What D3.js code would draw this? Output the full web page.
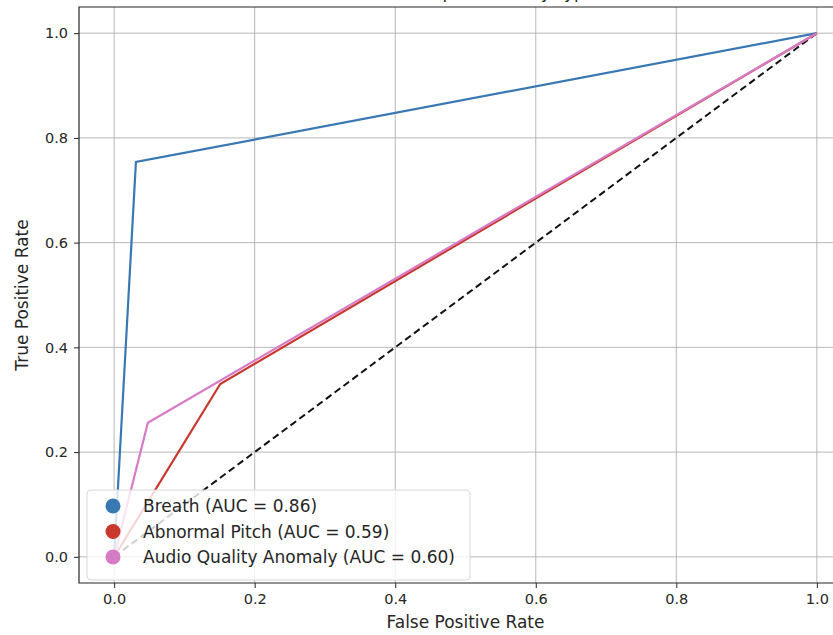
<!DOCTYPE html>
<html>
<head>
<meta charset="utf-8">
<script src="https://cdn.jsdelivr.net/npm/d3@7"></script>
<style>
  body { margin: 0; background: #fff; }
  text { font-family: "DejaVu Sans", sans-serif; fill: #262626; }
</style>
</head>
<body>
<script>
// ROC points per class
const seriesNames = ["Breath", "Abnormal Pitch", "Audio Quality Anomaly"]
const seriesAuc = ["0.86", "0.59", "0.60"]
const seriesColors = ["#3a78b4", "#c9382c", "#d67bc6"]
const breathFpr = [0, 0.031, 1]
const breathTpr = [0, 0.754, 1]
const pitchFpr = [0, 0.151, 1]
const pitchTpr = [0, 0.33, 1]
const audioFpr = [0, 0.048, 1]
const audioTpr = [0, 0.256, 1]
const chanceLine = [[0, 0], [1, 1]]
const tickValues = [0, 0.2, 0.4, 0.6, 0.8, 1.0]

const Width = 833
const Height = 635
// plot area (right side runs past the window edge, like the reference)
const Left = 79
const Right = 852
const Top = 7
const Bottom = 583

const svg = d3.select("body").append("svg")
    .attr("width", Width)
    .attr("height", Height)

const x = d3.scaleLinear().domain([-0.05, 1.05]).range([Left, Right])
const y = d3.scaleLinear().domain([-0.05, 1.05]).range([Bottom, Top])

// title, mostly above the frame
svg.append("text")
    .attr("x", (Left + Right) / 2)
    .attr("y", -2)
    .attr("text-anchor", "middle")
    .attr("font-size", "17px")
    .text("ROC Curves per Anomaly Type")

// grid
const grid = svg.append("g")
tickValues.forEach(t => {
    grid.append("line")
        .attr("x1", x(t)).attr("x2", x(t))
        .attr("y1", Top).attr("y2", Bottom)
        .attr("stroke", "#b0b0b0").attr("stroke-width", 0.9)
    grid.append("line")
        .attr("x1", Left).attr("x2", Right)
        .attr("y1", y(t)).attr("y2", y(t))
        .attr("stroke", "#b0b0b0").attr("stroke-width", 0.9)
})

const line = d3.line().x(d => x(d[0])).y(d => y(d[1]))

// chance diagonal
svg.append("path")
    .attr("d", line(chanceLine))
    .attr("fill", "none")
    .attr("stroke", "#111")
    .attr("stroke-width", 2)
    .attr("stroke-dasharray", "7,4")

const curves = [
    d3.zip(breathFpr, breathTpr),
    d3.zip(pitchFpr, pitchTpr),
    d3.zip(audioFpr, audioTpr)
]
curves.forEach((pts, i) => {
    svg.append("path")
        .attr("d", line(pts))
        .attr("fill", "none")
        .attr("stroke", seriesColors[i])
        .attr("stroke-width", 2.2)
        .attr("stroke-linejoin", "miter")
})

// axes
const xAxis = svg.append("g")
    .attr("transform", `translate(0,${Bottom})`)
    .call(d3.axisBottom(x).tickValues(tickValues).tickFormat(d3.format(".1f")).tickSize(5).tickPadding(6))
const yAxis = svg.append("g")
    .attr("transform", `translate(${Left},0)`)
    .call(d3.axisLeft(y).tickValues(tickValues).tickFormat(d3.format(".1f")).tickSize(5).tickPadding(6))
;[xAxis, yAxis].forEach(a => {
    a.select(".domain").remove()
    a.selectAll("line").attr("stroke", "#262626").attr("stroke-width", 1)
    a.selectAll("text").attr("font-size", "14.5px").attr("fill", "#262626")
})

// frame
svg.append("path")
    .attr("d", `M${Right},${Top}H${Left}V${Bottom}H${Right}`)
    .attr("fill", "none")
    .attr("stroke", "#262626")
    .attr("stroke-width", 1.2)

svg.append("text")
    .attr("x", (Left + Right) / 2)
    .attr("y", 628)
    .attr("text-anchor", "middle")
    .attr("font-size", "17px")
    .text("False Positive Rate")

svg.append("text")
    .attr("transform", `translate(28,${(Top + Bottom) / 2}) rotate(-90)`)
    .attr("text-anchor", "middle")
    .attr("font-size", "17px")
    .text("True Positive Rate")

// legend
const legend = svg.append("g").attr("transform", "translate(87,490)")
legend.append("rect")
    .attr("width", 383).attr("height", 90)
    .attr("rx", 4)
    .attr("fill", "white").attr("fill-opacity", 0.8)
    .attr("stroke", "#d8d8d8").attr("stroke-width", 1)
seriesNames.forEach((name, i) => {
    const row = legend.append("g").attr("transform", `translate(0,${16 + i * 25.5})`)
    row.append("circle")
        .attr("cx", 26).attr("cy", 0).attr("r", 7.5)
        .attr("fill", seriesColors[i])
    row.append("text")
        .attr("x", 56).attr("y", 6)
        .attr("font-size", "17px")
        .text(`${name} (AUC = ${seriesAuc[i]})`)
})
</script>
</body>
</html>
